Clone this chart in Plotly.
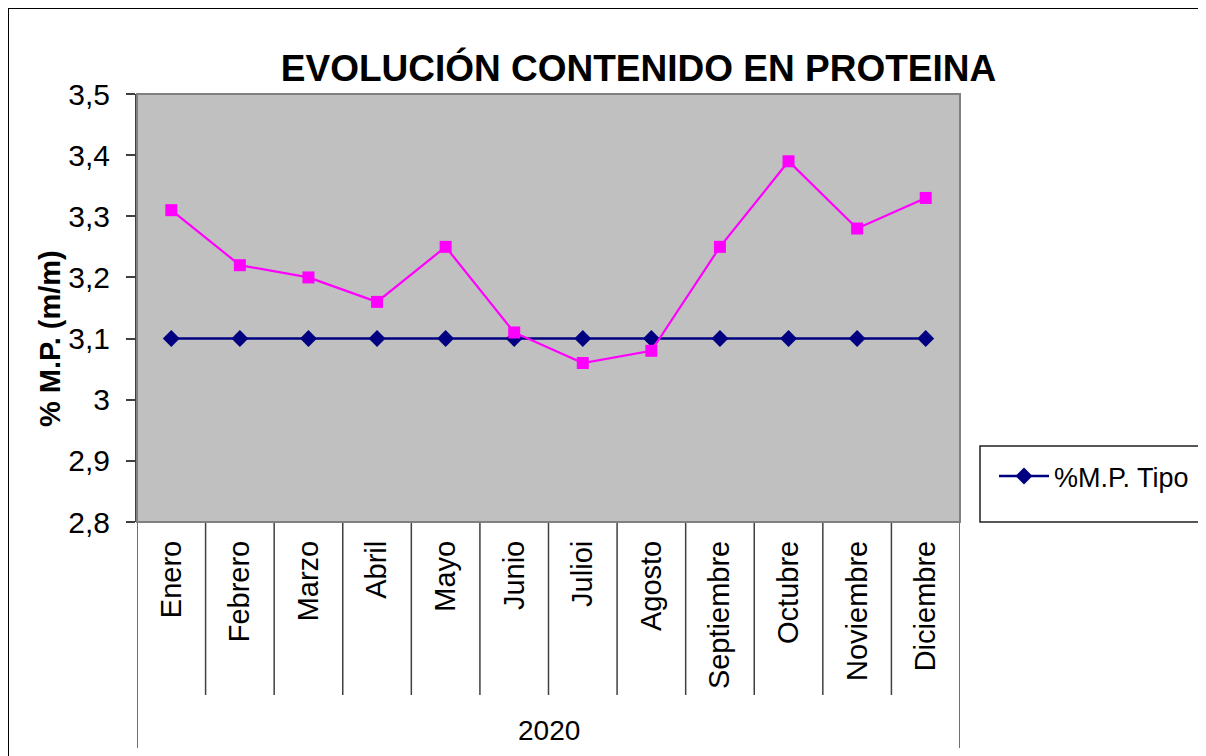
import plotly.graph_objects as go

months = ["Enero", "Febrero", "Marzo", "Abril", "Mayo", "Junio", "Julioi",
          "Agosto", "Septiembre", "Octubre", "Noviembre", "Diciembre"]
year_label = "2020"
proteina = [3.31, 3.22, 3.20, 3.16, 3.25, 3.11, 3.06, 3.08, 3.25, 3.39, 3.28, 3.33]
tipo = [3.1] * 12
tipo_name = "%M.P. Tipo"
title_text = "EVOLUCIÓN CONTENIDO EN PROTEINA"
y_title = "% M.P. (m/m)"
y_ticks = [2.8, 2.9, 3.0, 3.1, 3.2, 3.3, 3.4, 3.5]

FONT = "Arial, Liberation Sans, sans-serif"
OFF = 8  # page body margin in the screenshot
W, H = 1206 - OFF, 756 - OFF
L, R, T, B = 137, 960, 94, 522  # plot area in screenshot pixels


def px(xp):
    return (xp - L) / (R - L)


def py(yp):
    return (B - yp) / (B - T)


fig = go.Figure()
fig.add_trace(go.Scatter(
    x=months, y=tipo, name=tipo_name, mode="lines+markers",
    line=dict(color="#000080", width=2.5),
    marker=dict(symbol="diamond", size=13, color="#000080"),
))
fig.add_trace(go.Scatter(
    x=months, y=proteina, name="%M.P.", mode="lines+markers", showlegend=False,
    line=dict(color="#FF00FF", width=2.2),
    marker=dict(symbol="square", size=12, color="#FF00FF"),
))

shapes = []
for i in range(1, len(months)):
    shapes.append(dict(type="line", xref="x", yref="paper", x0=i - 0.5, x1=i - 0.5,
                       y0=0, y1=py(695), line=dict(color="#404040", width=1.5)))
for xv in (-0.5, len(months) - 0.5):
    shapes.append(dict(type="line", xref="x", yref="paper", x0=xv, x1=xv,
                       y0=0, y1=py(748), line=dict(color="#404040", width=1.5)))
shapes.append(dict(type="rect", xref="paper", yref="paper", x0=0, x1=1, y0=0, y1=1,
                   line=dict(color="#808080", width=2), layer="above"))
shapes.append(dict(type="rect", xref="paper", yref="paper", x0=px(980), x1=px(1225),
                   y0=py(522), y1=py(446), line=dict(color="#202020", width=1.5)))
shapes.append(dict(type="rect", xref="paper", yref="paper", x0=px(8), x1=px(1240),
                   y0=py(800), y1=py(8), line=dict(color="#000000", width=2)))

fig.update_layout(
    width=W, height=H,
    margin=dict(l=L - OFF, r=W - (R - OFF), t=T - OFF, b=H - (B - OFF)),
    paper_bgcolor="white", plot_bgcolor="#C0C0C0",
    separators=",.",
    font=dict(family=FONT, color="#000000", size=28),
    title=dict(text="<b>" + title_text + "</b>", x=(638.5 - OFF) / W, xanchor="center",
               y=1 - (68 - OFF) / H, yanchor="middle", yref="container",
               font=dict(size=37, family=FONT, color="#000000")),
    xaxis=dict(type="category", range=[-0.5, len(months) - 0.5], showgrid=False,
               tickangle=-90, ticks="", showline=False, zeroline=False,
               tickfont=dict(size=29, family=FONT, color="#000000"),
               ticklabelstandoff=12),
    yaxis=dict(range=[2.8, 3.5], tickvals=y_ticks, showgrid=False, zeroline=False,
               ticks="outside", ticklen=9, tickwidth=1.5, tickcolor="#404040",
               showline=True, linecolor="#404040", linewidth=2,
               tickfont=dict(size=30, family=FONT, color="#000000"),
               ticklabelstandoff=10),
    legend=dict(x=px(994), xanchor="left", y=py(452), yanchor="top",
                bgcolor="rgba(0,0,0,0)", borderwidth=0, itemwidth=50,
                font=dict(size=27, family=FONT, color="#000000")),
    shapes=shapes,
    annotations=[
        dict(text=year_label, xref="paper", yref="paper", x=0.5, y=py(730),
             xanchor="center", yanchor="middle", showarrow=False,
             font=dict(size=28, family=FONT, color="#000000")),
        dict(text="<b>" + y_title + "</b>", xref="paper", yref="paper",
             x=px(50), y=py(339), xanchor="center", yanchor="middle",
             textangle=-90, showarrow=False,
             font=dict(size=29, family=FONT, color="#000000")),
    ],
)

fig.write_html("out.html")
